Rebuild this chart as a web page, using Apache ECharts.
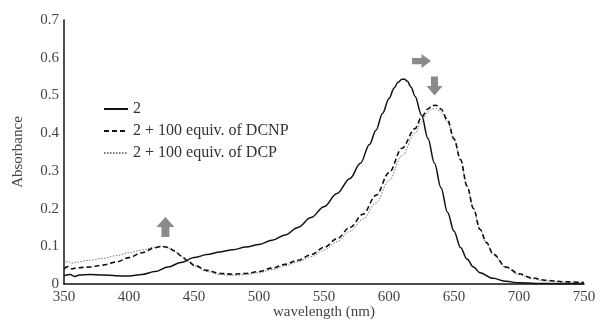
<!DOCTYPE html>
<html>
<head>
<meta charset="utf-8">
<script src="https://cdn.jsdelivr.net/npm/echarts@6/dist/echarts.min.js"></script>
<style>html,body{margin:0;padding:0;background:#fff}#c{width:604px;height:323px}</style>
</head>
<body>
<div id="c"></div>
<script>
const seriesNames = ['2', '2 + 100 equiv. of DCNP', '2 + 100 equiv. of DCP'];
const xTicks = [350, 400, 450, 500, 550, 600, 650, 700, 750];
const yTicks = [0, 0.1, 0.2, 0.3, 0.4, 0.5, 0.6, 0.7];

const wl2 = [350,355,358,362,370,380,390,400,410,420,430,440,450,460,470,480,490,500,510,520,530,540,550,560,570,578,585,590,595,600,604,607,610,612,614,617,620,625,630,635,640,645,650,655,660,665,670,680,690,700,720,750];
const abs2 = [0.022,0.025,0.020,0.024,0.025,0.024,0.022,0.021,0.025,0.033,0.045,0.057,0.070,0.078,0.085,0.091,0.098,0.105,0.116,0.130,0.150,0.176,0.205,0.240,0.280,0.320,0.370,0.408,0.452,0.492,0.520,0.535,0.543,0.543,0.538,0.522,0.498,0.448,0.385,0.320,0.255,0.190,0.140,0.097,0.066,0.045,0.030,0.015,0.007,0.003,0.001,0.000];

const wlDCNP = [350,353,356,360,370,380,390,400,410,420,425,430,435,440,445,450,460,470,480,490,500,510,520,530,540,550,560,570,580,590,600,610,620,625,630,633,636,640,645,650,655,660,665,670,675,680,690,700,710,720,735,750];
const absDCNP = [0.040,0.046,0.040,0.043,0.045,0.050,0.058,0.070,0.083,0.096,0.100,0.097,0.088,0.075,0.062,0.050,0.036,0.028,0.026,0.028,0.033,0.042,0.052,0.063,0.078,0.097,0.120,0.150,0.185,0.235,0.295,0.360,0.412,0.442,0.464,0.473,0.474,0.464,0.435,0.385,0.330,0.260,0.200,0.145,0.110,0.080,0.045,0.027,0.016,0.010,0.006,0.004];

const wlDCP = [350,353,356,360,370,380,390,400,410,420,425,430,435,440,445,450,460,470,480,490,500,510,520,530,540,550,560,570,580,590,600,610,620,625,630,633,636,640,645,650,655,660,665,670,675,680,690,700,710,720,735,750];
const absDCP = [0.052,0.060,0.055,0.058,0.063,0.068,0.075,0.083,0.090,0.098,0.100,0.096,0.087,0.074,0.060,0.048,0.033,0.025,0.023,0.025,0.030,0.038,0.048,0.059,0.072,0.090,0.112,0.140,0.172,0.215,0.275,0.340,0.400,0.430,0.456,0.464,0.465,0.456,0.430,0.382,0.328,0.260,0.200,0.145,0.108,0.078,0.043,0.025,0.014,0.008,0.005,0.003];

// annotation arrows: [wavelength, absorbance, rotation, head width px, length px]
const arrowUp = [428, 0.151, 0, 18, 20];
const arrowRight = [625, 0.591, -90, 14, 19];
const arrowDown = [635, 0.525, 180, 16, 19];

const zip = (a, b) => a.map((v, i) => [v, b[i]]);
const FONT = 'Liberation Serif';
const TXT = '#444';
const arrowPath = 'path://M5,0 L10,5 L7.2,5 L7.2,10 L2.8,10 L2.8,5 L0,5 Z';
const mkArrow = a => ({coord: [a[0], a[1]], symbolRotate: a[2], symbolSize: [a[3], a[4]]});

const chart = echarts.init(document.getElementById('c'));
chart.setOption({
  animation: false,
  backgroundColor: '#fff',
  grid: {left: 64, right: 20, top: 20, bottom: 39, containLabel: false, outerBoundsMode: 'none'},
  legend: {
    orient: 'vertical', left: 98, top: 96,
    itemWidth: 24, itemHeight: 14, itemGap: 6,
    itemStyle: {opacity: 0},
    textStyle: {fontFamily: FONT, fontSize: 16, color: '#333'},
    data: seriesNames
  },
  xAxis: {
    type: 'value', min: 350, max: 750, interval: 50,
    name: 'wavelength (nm)', nameLocation: 'middle', nameGap: 21, nameMoveOverlap: false,
    nameTextStyle: {fontFamily: FONT, fontSize: 15, color: TXT},
    axisLine: {lineStyle: {color: '#111', width: 1.5}},
    axisTick: {show: false},
    splitLine: {show: false},
    axisLabel: {fontFamily: FONT, fontSize: 15, color: TXT, margin: 6,
      formatter: v => xTicks.includes(v) ? String(v) : ''}
  },
  yAxis: {
    type: 'value', min: 0, max: 0.7, interval: 0.1,
    name: 'Absorbance', nameLocation: 'middle', nameGap: 38, nameRotate: 90, nameMoveOverlap: false,
    nameTextStyle: {fontFamily: FONT, fontSize: 15, color: TXT},
    axisLine: {show: true, lineStyle: {color: '#111', width: 1.5}},
    axisTick: {show: false},
    splitLine: {show: false},
    axisLabel: {fontFamily: FONT, fontSize: 15, color: TXT, margin: 5,
      formatter: v => { const t = yTicks.find(y => Math.abs(y - v) < 1e-9); return t === undefined ? '' : String(t); }}
  },
  series: [
    {
      name: seriesNames[0], type: 'line', symbol: 'none', smooth: 0.35, smoothMonotone: 'x',
      data: zip(wl2, abs2),
      lineStyle: {color: '#111', width: 1.5},
      itemStyle: {color: '#111'},
      markPoint: {
        symbol: arrowPath,
        itemStyle: {color: '#8a8a8a'},
        label: {show: false},
        data: [mkArrow(arrowUp), mkArrow(arrowRight), mkArrow(arrowDown)]
      },
      z: 3
    },
    {
      name: seriesNames[1], type: 'line', symbol: 'none', smooth: 0.35, smoothMonotone: 'x',
      data: zip(wlDCNP, absDCNP),
      lineStyle: {color: '#111', width: 1.6, type: [5, 3]},
      itemStyle: {color: '#111'},
      z: 2
    },
    {
      name: seriesNames[2], type: 'line', symbol: 'none', smooth: 0.35, smoothMonotone: 'x',
      data: zip(wlDCP, absDCP),
      lineStyle: {color: '#777', width: 1, type: [1.5, 1.5]},
      itemStyle: {color: '#777'},
      z: 1
    }
  ]
});
</script>
</body>
</html>
